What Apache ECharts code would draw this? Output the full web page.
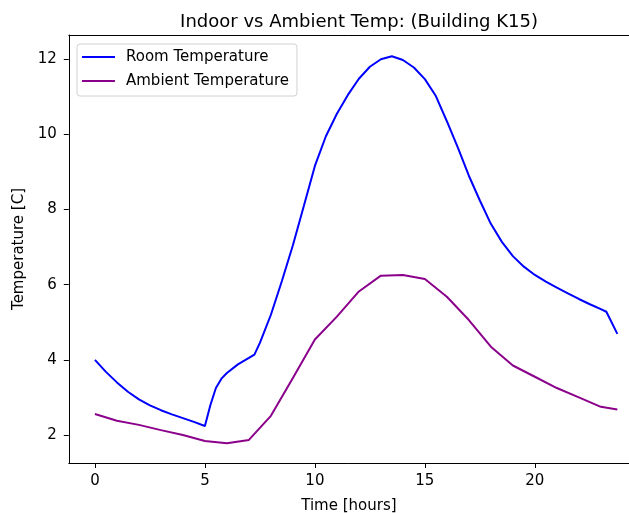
<!DOCTYPE html>
<html>
<head>
<meta charset="utf-8">
<script src="https://cdn.jsdelivr.net/npm/echarts@6/dist/echarts.min.js"></script>
<style>
html, body { margin: 0; padding: 0; background: #fff; }
#chart { width: 629px; height: 513px; }
</style>
</head>
<body>
<div id="chart"></div>
<script>
// hours of the day
var roomHours = [0, 0.5, 1, 1.5, 2, 2.5, 3, 3.5, 4, 4.5, 5, 5.25, 5.5, 5.75, 6, 6.5, 7, 7.25, 7.5, 8, 8.5, 9, 9.5,
    10, 10.5, 11, 11.5, 12, 12.5, 13, 13.5, 14, 14.5, 15, 15.5, 16, 16.5, 17, 17.5, 18, 18.5, 19, 19.5,
    20, 20.5, 21, 21.5, 22, 22.5, 23, 23.25, 23.75];
var roomTemp = [4.00, 3.68, 3.40, 3.15, 2.95, 2.79, 2.66, 2.55, 2.45, 2.35, 2.24, 2.80, 3.25, 3.50, 3.65, 3.88, 4.05, 4.14, 4.45, 5.20, 6.10, 7.05, 8.10,
    9.16, 9.95, 10.55, 11.05, 11.48, 11.80, 12.00, 12.08, 11.98, 11.78, 11.47, 11.02, 10.35, 9.65, 8.90, 8.24, 7.62, 7.14, 6.76, 6.48,
    6.26, 6.08, 5.92, 5.77, 5.62, 5.48, 5.35, 5.28, 4.69];

var ambientHours = [0, 1, 2, 3, 4, 5, 6, 7, 8, 9, 10, 11, 12, 13, 14, 15, 16, 17, 18, 19, 20, 21, 22, 23, 23.75];
var ambientTemp = [2.56, 2.38, 2.27, 2.13, 2.00, 1.84, 1.78, 1.87, 2.51, 3.52, 4.54, 5.15, 5.82, 6.24, 6.26, 6.15,
    5.68, 5.06, 4.35, 3.85, 3.55, 3.25, 3.00, 2.75, 2.68];

var xTicks = [0, 5, 10, 15, 20];
var yTicks = [2, 4, 6, 8, 10, 12];

function pairs(xs, ys) {
    var out = [];
    for (var i = 0; i < xs.length; i++) out.push([xs[i], ys[i]]);
    return out;
}

var font = 'DejaVu Sans';

var option = {
    animation: false,
    title: {
        text: 'Indoor vs Ambient Temp: (Building K15)',
        left: 354,
        textAlign: 'center',
        top: 8,
        textStyle: { fontFamily: font, fontSize: 18, fontWeight: 'normal', color: '#000' }
    },
    legend: {
        orient: 'vertical',
        left: 77,
        top: 44,
        padding: [5, 8, 7, 5],
        icon: 'rect',
        itemWidth: 33,
        itemHeight: 2,
        itemGap: 8,
        borderColor: '#d0d0d0',
        borderWidth: 1,
        borderRadius: 3,
        backgroundColor: 'rgba(255,255,255,0.8)',
        textStyle: { fontFamily: font, fontSize: 15, color: '#000', lineHeight: 16, padding: [0, 0, 0, 6] },
        data: ['Room Temperature', 'Ambient Temperature']
    },
    grid: {
        left: 68.8,
        right: 0,
        top: 35,
        bottom: 50,
        show: false,
        containLabel: false,
        outerBoundsMode: 'none'
    },
    xAxis: [
        {
            type: 'value',
            min: -1.1875,
            max: 24.28,
            name: 'Time [hours]',
            nameLocation: 'middle',
            nameGap: 36,
            nameTextStyle: { fontFamily: font, fontSize: 15, color: '#000' },
            splitLine: { show: false },
            axisLine: { show: true, onZero: false, lineStyle: { color: '#000', width: 1 } },
            axisTick: { show: true, inside: false, length: 5, customValues: xTicks, lineStyle: { color: '#000' } },
            axisLabel: { customValues: xTicks, margin: 11, fontFamily: font, fontSize: 15, color: '#000' }
        },
        {
            // top spine only
            type: 'value',
            position: 'top',
            min: -1.1875,
            max: 24.28,
            splitLine: { show: false },
            axisLine: { show: true, onZero: false, lineStyle: { color: '#000', width: 1 } },
            axisTick: { show: false },
            axisLabel: { show: false }
        }
    ],
    yAxis: {
        type: 'value',
        min: 1.255,
        max: 12.645,
        name: 'Temperature [C]',
        nameLocation: 'middle',
        nameGap: 40,
        nameTextStyle: { fontFamily: font, fontSize: 15, color: '#000' },
        splitLine: { show: false },
        axisLine: { show: true, onZero: false, lineStyle: { color: '#000', width: 1 } },
        axisTick: { show: true, inside: false, length: 5, customValues: yTicks, lineStyle: { color: '#000' } },
        axisLabel: { customValues: yTicks, margin: 12, fontFamily: font, fontSize: 15, color: '#000' }
    },
    series: [
        {
            name: 'Room Temperature',
            type: 'line',
            symbol: 'none',
            data: pairs(roomHours, roomTemp),
            lineStyle: { color: '#0000ff', width: 2 },
            itemStyle: { color: '#0000ff' }
        },
        {
            name: 'Ambient Temperature',
            type: 'line',
            symbol: 'none',
            data: pairs(ambientHours, ambientTemp),
            lineStyle: { color: '#8b008b', width: 2 },
            itemStyle: { color: '#8b008b' }
        }
    ]
};

var myChart = echarts.init(document.getElementById('chart'));
myChart.setOption(option);
</script>
</body>
</html>
